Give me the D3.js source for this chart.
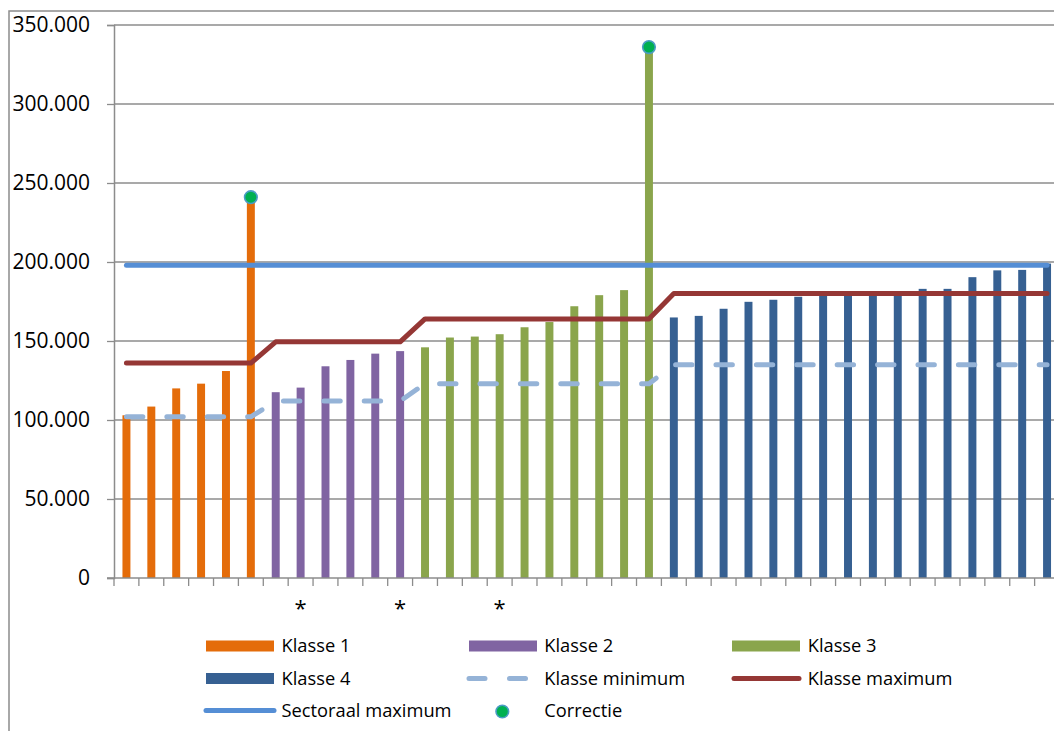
<!DOCTYPE html>
<html><head><meta charset="utf-8">
<script src="https://cdn.jsdelivr.net/npm/d3@7/dist/d3.min.js"></script>
<style>
html,body{margin:0;padding:0;background:#fff;}
svg{display:block;font-family:"Open Sans",sans-serif;}
</style></head>
<body>
<svg id="chart" width="1054" height="731"></svg>
<script>
// ---- data ----
const xLabels = ["","","","","","","","*","","","","*","","","","*","","","","","","","","","","","","","","","","","","","","","",""];
const values = [103000,108500,120000,123000,131000,241000,
                117600,120500,134000,138000,142000,143600,
                146000,152200,152800,154300,158700,162000,172000,179000,182200,336000,
                164900,165900,170400,174800,176100,178000,179500,180000,180500,181000,183000,183000,190400,194700,195000,199000];
const klasse = [1,1,1,1,1,1, 2,2,2,2,2,2, 3,3,3,3,3,3,3,3,3,3, 4,4,4,4,4,4,4,4,4,4,4,4,4,4,4,4];
const klasseNames = ["Klasse 1","Klasse 2","Klasse 3","Klasse 4"];
const klasseMin = [102000,112000,123000,135000];
const klasseMax = [136000,149500,164000,180000];
const sectoraalMax = 198000;
const correctieIdx = [5,21];
const correctieVal = [241000,336000];
const yTicks = [0,50000,100000,150000,200000,250000,300000,350000];

// ---- style ----
const klasseColors = ["#e46c0a","#8064a2","#8aa54c","#366092"];
const minColor = "#95b3d7", maxColor = "#953735", sectColor = "#558ed5";
const gridColor = "#8c8c8c";

const svg = d3.select("#chart");
// outer frame
svg.append("rect").attr("x",9).attr("y",11).attr("width",1100).attr("height",800)
  .attr("fill","none").attr("stroke",gridColor).attr("stroke-width",1.5);

const x0 = 114, x1 = 1059.5, yTop = 25, yBot = 578;
const idx = values.map((d,i)=>i);
const x = d3.scaleBand().domain(idx).range([x0,x1]).paddingInner(0.68).paddingOuter(0.34);
const step = x.step();
const cx = i => x(i) + x.bandwidth()/2;
const y = d3.scaleLinear().domain([0,350000]).range([yBot,yTop]);

// grid
svg.append("g").selectAll("line").data(yTicks.filter(d=>d>0)).join("line")
  .attr("x1",x0).attr("x2",1054).attr("y1",d=>y(d)).attr("y2",d=>y(d))
  .attr("stroke",gridColor).attr("stroke-width",1.3);

// y axis
const fmt = d => d3.format(",")(d).replace(/,/g,".");
const ya = svg.append("g").attr("transform",`translate(${x0},0)`)
  .call(d3.axisLeft(y).tickValues(yTicks).tickFormat(fmt).tickSize(7).tickPadding(17));
ya.select(".domain").attr("stroke",gridColor).attr("stroke-width",1.5);
ya.selectAll(".tick line").attr("stroke",gridColor).attr("stroke-width",1.3);
ya.selectAll(".tick text").attr("font-size",21).attr("fill","#000").attr("font-family","Open Sans");

// bars
svg.append("g").selectAll("rect").data(values).join("rect")
  .attr("x",(d,i)=>x(i)).attr("width",x.bandwidth())
  .attr("y",d=>y(d)).attr("height",d=>yBot-y(d))
  .attr("fill",(d,i)=>klasseColors[klasse[i]-1]);

// x axis
svg.append("line").attr("x1",x0-7).attr("x2",1054).attr("y1",yBot).attr("y2",yBot)
  .attr("stroke",gridColor).attr("stroke-width",1.5);
svg.append("g").selectAll("line").data(idx).join("line")
  .attr("x1",i=>x0+i*step).attr("x2",i=>x0+i*step).attr("y1",yBot).attr("y2",yBot+8)
  .attr("stroke",gridColor).attr("stroke-width",1.3);
const xa = svg.append("g").attr("transform",`translate(0,${yBot})`)
  .call(d3.axisBottom(x).tickSize(0).tickPadding(22).tickFormat(i=>xLabels[i]));
xa.select(".domain").remove();
xa.selectAll(".tick text").attr("font-size",22).attr("fill","#000").attr("font-family","Open Sans");

// lines
const lineGen = d3.line().x(d=>cx(d[0])).y(d=>y(d[1]));
const minPts = idx.map(i=>[i, klasseMin[klasse[i]-1]]);
const maxPts = idx.map(i=>[i, klasseMax[klasse[i]-1]]);
svg.append("path").attr("d",lineGen(minPts)).attr("fill","none")
  .attr("stroke",minColor).attr("stroke-width",5).attr("stroke-linecap","round")
  .attr("stroke-linejoin","round").attr("stroke-dasharray","16.4,24");
svg.append("path").attr("d",lineGen(maxPts)).attr("fill","none")
  .attr("stroke",maxColor).attr("stroke-width",5).attr("stroke-linecap","round")
  .attr("stroke-linejoin","round");
svg.append("path").attr("d",lineGen(idx.map(i=>[i,sectoraalMax]))).attr("fill","none")
  .attr("stroke",sectColor).attr("stroke-width",5).attr("stroke-linecap","round");

// correctie points
svg.append("g").selectAll("circle").data(correctieIdx).join("circle")
  .attr("cx",i=>cx(i)).attr("cy",(i,k)=>y(correctieVal[k])).attr("r",6.3)
  .attr("fill","#00b050").attr("stroke","#4a9cc4").attr("stroke-width",1.6);

// legend
const lg = svg.append("g").attr("font-size",18.3).attr("fill","#000");
const rows = [646, 678.5, 710.5];
const cols = [{sx:206, tx:281.5},{sx:469, tx:544.3},{sx:732, tx:807.7}];
function legText(c,r,t){ lg.append("text").attr("x",cols[c].tx).attr("y",rows[r]).attr("dy","0.35em").text(t); }
[[0,0],[1,0],[2,0],[0,1]].forEach(([c,r],k)=>{
  lg.append("rect").attr("x",cols[c].sx).attr("y",rows[r]-5.5).attr("width",68).attr("height",11)
    .attr("fill",klasseColors[k]);
  legText(c,r,klasseNames[k]);
});
// Klasse minimum
lg.append("line").attr("x1",469).attr("x2",527).attr("y1",rows[1]).attr("y2",rows[1])
  .attr("stroke",minColor).attr("stroke-width",5).attr("stroke-linecap","round").attr("stroke-dasharray","16,24.5");
legText(1,1,"Klasse minimum");
// Klasse maximum
lg.append("line").attr("x1",734).attr("x2",799).attr("y1",rows[1]).attr("y2",rows[1])
  .attr("stroke",maxColor).attr("stroke-width",5).attr("stroke-linecap","round");
legText(2,1,"Klasse maximum");
// Sectoraal maximum
lg.append("line").attr("x1",206).attr("x2",274).attr("y1",rows[2]).attr("y2",rows[2])
  .attr("stroke",sectColor).attr("stroke-width",5).attr("stroke-linecap","round");
legText(0,2,"Sectoraal maximum");
// Correctie
lg.append("circle").attr("cx",502.3).attr("cy",rows[2]+1).attr("r",6.3)
  .attr("fill","#00b050").attr("stroke","#4a9cc4").attr("stroke-width",1.6);
legText(1,2,"Correctie");
</script>
</body></html>
